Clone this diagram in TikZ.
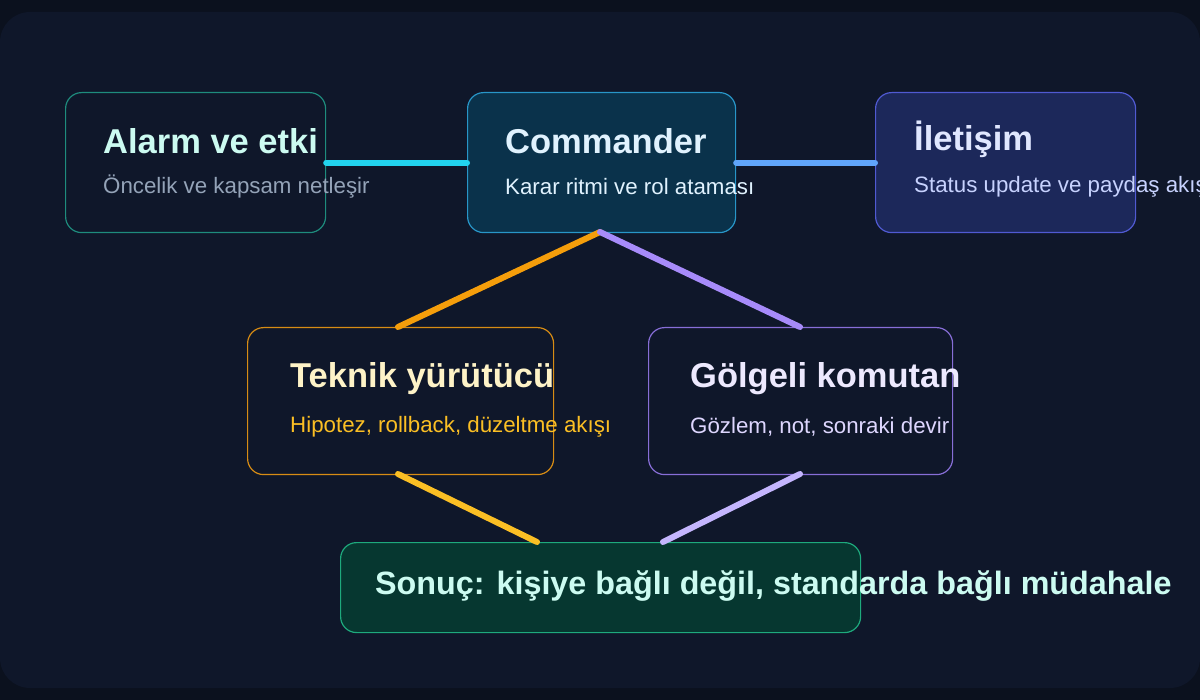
\documentclass[tikz,border=0pt]{standalone}
\usepackage{fontspec}
\setmainfont{Liberation Sans}
\definecolor{bgout}{HTML}{0B111E}
\definecolor{bgin}{HTML}{0F172A}
\definecolor{bA}{HTML}{1E8C7D}
\definecolor{bC}{HTML}{2896C8}
\definecolor{fC}{HTML}{0A324B}
\definecolor{bI}{HTML}{505AD2}
\definecolor{fI}{HTML}{1C285A}
\definecolor{bT}{HTML}{D78C14}
\definecolor{bG}{HTML}{876ED7}
\definecolor{bS}{HTML}{1EAA7D}
\definecolor{fS}{HTML}{063730}
\definecolor{tA}{HTML}{CCFBF1}
\definecolor{sA}{HTML}{94A3B8}
\definecolor{tC}{HTML}{E0F2FE}
\definecolor{tI}{HTML}{E0E7FF}
\definecolor{sI}{HTML}{C7D2FE}
\definecolor{tT}{HTML}{FEF3C7}
\definecolor{sT}{HTML}{FBBF24}
\definecolor{tG}{HTML}{EDE9FE}
\definecolor{sG}{HTML}{DDD6FE}
\definecolor{l1}{HTML}{22D3EE}
\definecolor{l2}{HTML}{60A5FA}
\definecolor{l3}{HTML}{F59E0B}
\definecolor{l4}{HTML}{A78BFA}
\definecolor{l5}{HTML}{FBBF24}
\definecolor{l6}{HTML}{C4B5FD}
\begin{document}
\begin{tikzpicture}[x=1pt,y=-1pt,
  box/.style={draw,line width=1.2pt,rounded corners=16pt,anchor=north west,inner sep=0pt},
  ttl/.style={anchor=west,font=\fontsize{34.5}{38}\selectfont\bfseries,inner sep=0pt},
  sub/.style={anchor=west,font=\fontsize{22.3}{25}\selectfont,inner sep=0pt},
  conn/.style={line width=6pt,line cap=round}]
\fill[bgout] (0,0) rectangle (1200,700);
\useasboundingbox (0,0) rectangle (1200,700);
\fill[bgin,rounded corners=30pt] (0,12) rectangle (1200,688);
% boxes
\node[box,draw=bA,fill=bgin,minimum width=260pt,minimum height=140pt] (alarm) at (65,92) {};
\node[box,draw=bC,fill=fC,minimum width=268pt,minimum height=140pt] (cmd) at (467,92) {};
\node[box,draw=bI,fill=fI,minimum width=260pt,minimum height=140pt] (ilet) at (875,92) {};
\node[box,draw=bT,fill=bgin,minimum width=306pt,minimum height=147pt] (tek) at (247,327) {};
\node[box,draw=bG,fill=bgin,minimum width=304pt,minimum height=147pt] (gol) at (648,327) {};
\node[box,draw=bS,fill=fS,minimum width=520pt,minimum height=90pt] (son) at (340,542) {};
% texts
\node[ttl,text=tA] (t1) at (103,141) {Alarm ve etki};
\node[sub,text=sA] (s1) at (103,187) {Öncelik ve kapsam netleşir};
\node[ttl,text=tC] (t2) at (505,141) {Commander};
\node[sub,text=tC] (s2) at (505,187) {Karar ritmi ve rol ataması};
\node[ttl,text=tI] (t3) at (914,139) {İletişim};
\node[sub,text=sI] (s3) at (914,187) {Status update ve paydaş akışı};
\node[ttl,text=tT] (t4) at (290,379) {Teknik yürütücü};
\node[sub,text=sT] (s4) at (290,427) {Hipotez, rollback, düzeltme akışı};
\node[ttl,text=tG] (t5) at (690,379) {Gölgeli komutan};
\node[sub,text=sG] (s5) at (690,427) {Gözlem, not, sonraki devir};
\node[ttl,font=\fontsize{32.3}{36}\selectfont\bfseries,text=tA] (t6) at (375,586) {Sonuç: kişiye bağlı değil, standarda bağlı müdahale};
% connector points
\coordinate (cb) at (600,232);
\coordinate (tt) at (398,327);
\coordinate (gt) at (800,327);
\coordinate (tb) at (398,474);
\coordinate (gb) at (800,474);
\coordinate (sl) at (537,542);
\coordinate (sr) at (663,542);
\draw[conn,l1] (alarm.east) -- (cmd.west);
\draw[conn,l2] (cmd.east) -- (ilet.west);
\draw[conn,l3] (cb) -- (tt);
\draw[conn,l4] (cb) -- (gt);
\draw[conn,l5] (tb) -- (sl);
\draw[conn,l6] (gb) -- (sr);
\end{tikzpicture}
\end{document}
